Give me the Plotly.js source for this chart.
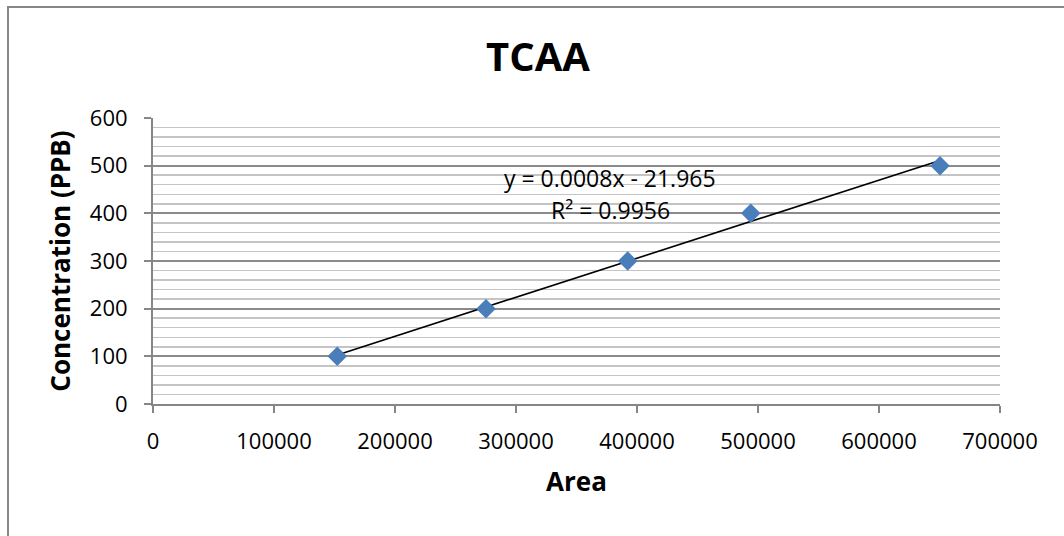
<!DOCTYPE html>
<html>
<head>
<meta charset="utf-8">
<script src="https://cdn.plot.ly/plotly-3.0.1.min.js"></script>
<style>
  html, body { margin: 0; padding: 0; background: #fff; }
  #wrap { position: relative; width: 1064px; height: 536px; overflow: hidden; }
  #chart { position: absolute; left: 0; top: 0; width: 1064px; height: 536px; }
  #frame { position: absolute; left: 7px; top: 6px; width: 1100px; height: 600px;
           border-left: 2px solid #878787; border-top: 2px solid #878787; pointer-events: none; }
</style>
</head>
<body>
<div id="wrap">
  <div id="chart"></div>
  <div id="frame"></div>
</div>
<script>
// Data
const area = [152300, 275200, 392300, 494000, 650400];
const concentration = [100, 200, 300, 400, 500];
const chartTitle = 'TCAA';
const xTitle = 'Area';
const yTitle = 'Concentration (PPB)';
const equationText = 'y = 0.0008x - 21.965';
const r2Text = 'R² = 0.9956';
const xTicks = [0, 100000, 200000, 300000, 400000, 500000, 600000, 700000];
const yTicks = [0, 100, 200, 300, 400, 500, 600];

// Linear trendline (least squares, as the spreadsheet computes it)
const n = area.length;
const mx = area.reduce((a, b) => a + b, 0) / n;
const my = concentration.reduce((a, b) => a + b, 0) / n;
let sxy = 0, sxx = 0;
for (let i = 0; i < n; i++) { sxy += (area[i] - mx) * (concentration[i] - my); sxx += (area[i] - mx) ** 2; }
const slope = sxy / sxx;
const intercept = my - slope * mx;
const xMin = Math.min(...area), xMax = Math.max(...area);
const trendX = [xMin, xMax];
const trendY = trendX.map(x => slope * x + intercept);

const FONT = 'Open Sans, Noto Sans, sans-serif';

const traces = [
  {
    x: trendX, y: trendY, type: 'scatter', mode: 'lines',
    line: { color: '#000000', width: 1.6 }, hoverinfo: 'skip', showlegend: false
  },
  {
    x: area, y: concentration, type: 'scatter', mode: 'markers',
    marker: { symbol: 'diamond', size: 15, color: '#4A7EBB', line: { width: 0 } },
    showlegend: false
  }
];

const layout = {
  width: 1064, height: 536,
  paper_bgcolor: '#ffffff', plot_bgcolor: '#ffffff',
  margin: { l: 153, r: 64, t: 118, b: 132, pad: 0 },
  showlegend: false,
  font: { family: FONT, color: '#000000', size: 22 },
  title: {
    text: '<b>' + chartTitle + '</b>',
    font: { family: FONT, size: 40, color: '#000000' },
    xref: 'container', x: 538 / 1064, xanchor: 'center',
    yref: 'container', y: 1 - 57 / 536, yanchor: 'middle'
  },
  xaxis: {
    range: [0, 700000], tickvals: xTicks, ticktext: xTicks.map(String),
    showgrid: false, zeroline: false,
    showline: true, linecolor: '#868686', linewidth: 2,
    ticks: 'outside', ticklen: 7, tickcolor: '#868686', tickwidth: 2,
    tickfont: { family: FONT, size: 22, color: '#000000' },
    ticklabelstandoff: 10,
    title: { text: '<b>' + xTitle + '</b>', font: { family: FONT, size: 26, color: '#000000' }, standoff: 18 }
  },
  yaxis: {
    range: [0, 600], tickvals: yTicks, ticktext: yTicks.map(String),
    showgrid: true, gridcolor: '#8a8a8a', gridwidth: 2,
    zeroline: false,
    showline: true, linecolor: '#868686', linewidth: 2,
    ticks: 'outside', ticklen: 7, tickcolor: '#868686', tickwidth: 2,
    tickfont: { family: FONT, size: 22, color: '#000000' },
    ticklabelstandoff: 12,
    minor: { dtick: 20, showgrid: true, gridcolor: '#c4c4c4', gridwidth: 1.5, ticks: '' },
    title: { text: '<b>' + yTitle + '</b>', font: { family: FONT, size: 26, color: '#000000' }, standoff: 12 }
  },
  annotations: [
    { xref: 'paper', yref: 'paper', x: (610 - 153) / 847, y: (404 - 178) / 286,
      text: equationText, showarrow: false, xanchor: 'center', yanchor: 'middle',
      font: { family: FONT, size: 23, color: '#000000' } },
    { xref: 'paper', yref: 'paper', x: (610 - 153) / 847, y: (404 - 210) / 286,
      text: r2Text, showarrow: false, xanchor: 'center', yanchor: 'middle',
      font: { family: FONT, size: 23, color: '#000000' } }
  ]
};

Plotly.newPlot('chart', traces, layout, { staticPlot: true, displayModeBar: false });
</script>
</body>
</html>
